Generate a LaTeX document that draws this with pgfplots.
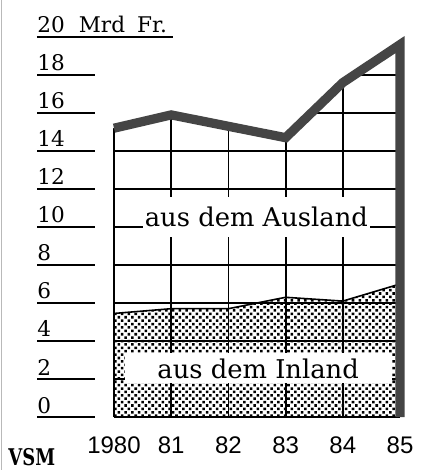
\documentclass[border=0pt]{standalone}
\usepackage{pgfplots}
\pgfplotsset{compat=1.18}
\usepackage{fontspec}
\setmainfont{DejaVu Serif}
\newfontfamily\xfont{Liberation Sans}
\usetikzlibrary{patterns.meta}
\definecolor{tgray}{HTML}{454545}
\newcommand\tl[2]{\rlap{\rule[-2.45pt]{#1}{0.9pt}}#2}
\begin{document}
\begin{tikzpicture}
\begin{axis}[
  at={(0,0)}, anchor=south west, scale only axis,
  width=143pt, height=190pt,
  xmin=1980, xmax=1985, ymin=0, ymax=20, clip=false,
  axis line style={draw=none}, major tick length=0pt,
  xtick={1980,1981,1982,1983,1984,1985},
  xticklabels={1980,81,82,83,84,85},
  ytick={0,2,4,6,8,10,12,14,16,18},
  yticklabels={\tl{29pt}{0},\tl{29pt}{2},\tl{29pt}{4},\tl{29pt}{6},\tl{29pt}{8},\tl{29pt}{10},\tl{29pt}{12},\tl{29pt}{14},\tl{29pt}{16},\tl{29pt}{18}},
  extra y ticks={20},
  extra y tick labels={20\hspace{7pt}Mrd\hspace{6pt}Fr.},
  extra y tick style={grid=none},
  grid=major, major grid style={black, line width=0.9pt},
  xticklabel style={font=\xfont\fontsize{12}{14}\selectfont, anchor=base, yshift=-18pt, inner sep=0pt},
  yticklabel style={font=\fontsize{10.8}{12}\selectfont, anchor=base west, inner sep=0pt, xshift=-38.5pt, yshift=2pt},
]
% domestic (Inland) area, dotted
\addplot[draw=none, pattern={Dots[angle=45, distance=2.4pt, radius=0.9pt]}, pattern color=black]
  coordinates {(1980,5.45) (1981,5.7) (1982,5.7) (1983,6.3) (1984,6.1) (1985,7.0)} \closedcycle;
% white above total
\addplot[draw=none, fill=white]
  coordinates {(1979.9,15.2) (1980,15.2) (1981,15.9) (1982,15.3) (1983,14.7) (1984,17.6) (1985,19.6) (1985.1,19.6) (1985.1,20.15) (1979.9,20.15)} -- cycle;
% Inland line
\addplot[black, line width=0.8pt]
  coordinates {(1980,5.45) (1981,5.7) (1982,5.7) (1983,6.3) (1984,6.1) (1985,7.0)};
% total (thick)
\addplot[color=tgray, line width=4.6pt, line join=miter]
  coordinates {(1980,15.2) (1981,15.9) (1982,15.3) (1983,14.7) (1984,17.6) (1985,19.6) (1985,0)};
\node[fill=white, inner sep=0pt, anchor=base, text height=15pt, text depth=5pt, minimum width=113.5pt, font=\fontsize{12.9}{14}\selectfont]
  at (axis cs:1982.49,10) {aus dem Ausland};
\node[fill=white, inner sep=0pt, anchor=base, text height=12.5pt, text depth=2.5pt, minimum width=133.5pt, font=\fontsize{12.9}{14}\selectfont]
  at (axis cs:1982.52,2.05) {aus dem Inland};
\end{axis}
% underline of the unit label
\draw[black, line width=0.9pt] (-38.5pt,190pt) -- (29.5pt,190pt);
\node[anchor=base west, inner sep=0pt, font=\bfseries\fontsize{11.5}{13}\selectfont] at (-53pt,-24pt) {\scalebox{0.78}[1]{VSM}};
\draw[gray!55, line width=0.7pt] (-56.2pt,-26.5pt) -- (-56.2pt,208.5pt);
\pgfresetboundingbox
\useasboundingbox (-57pt,-26.5pt) rectangle (157.5pt,208.5pt);
\end{tikzpicture}
\end{document}
